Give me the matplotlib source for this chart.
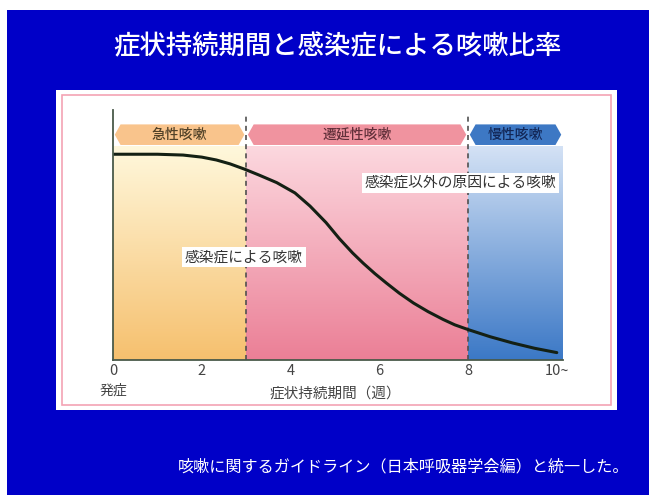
import matplotlib.pyplot as plt
import numpy as np
from matplotlib.colors import LinearSegmentedColormap
from matplotlib.patches import Rectangle, Polygon

plt.rcParams['font.family'] = ['Noto Sans CJK JP', 'DejaVu Sans']

# data
weeks = [0, 0.5, 1.0, 1.58, 2.0, 2.33, 2.64, 2.97, 3.3, 3.69, 4.1, 4.44, 4.8, 5.1, 5.4,
         5.64, 5.9, 6.16, 6.45, 6.77, 7.1, 7.44, 7.7, 8.0, 8.5, 9.0, 9.5, 10.0]
ratio = [1.0, 1.0, 1.0, 0.996, 0.986, 0.972, 0.953, 0.927, 0.898, 0.862, 0.812, 0.748, 0.668,
         0.59, 0.52, 0.47, 0.42, 0.374, 0.325, 0.277, 0.235, 0.197, 0.171, 0.148, 0.113,
         0.083, 0.057, 0.036]

phase_names = ['急性咳嗽', '遷延性咳嗽', '慢性咳嗽']
phase_edges = [0, 3, 8, 10.14]
phase_top = ['#fff8dc', '#fcd8df', '#d4e2f5']
phase_bottom = ['#f6c06e', '#eb7f96', '#3b78c6']
ribbon_colors = ['#f9c48c', '#f0939f', '#3d78c4']
ribbon_text = ['#524228', '#62303a', '#122656']

tick_pos = [0, 2, 4, 6, 8, 10]
tick_labels = ['0', '2', '4', '6', '8', '10~']

title = '症状持続期間と感染症による咳嗽比率'
footer = '咳嗽に関するガイドライン（日本呼吸器学会編）と統一した。'

blue = '#0000c8'
fig = plt.figure(figsize=(6.49, 4.95), dpi=100, facecolor=blue)

# white strips at the top and left edge, white panel with pink border
fig.patches.append(Rectangle((0, 1 - 10 / 495), 1, 10 / 495, transform=fig.transFigure,
                             facecolor='white', edgecolor='none', zorder=-2))
fig.patches.append(Rectangle((0, 0), 7 / 649, 1, transform=fig.transFigure,
                             facecolor='white', edgecolor='none', zorder=-2))
fig.patches.append(Rectangle((56 / 649, 1 - 410 / 495), 561 / 649, 320 / 495,
                             transform=fig.transFigure, facecolor='white',
                             edgecolor='none', zorder=-2))
fig.patches.append(Rectangle((62 / 649, 1 - 405 / 495), 549 / 649, 310 / 495,
                             transform=fig.transFigure, facecolor='none',
                             edgecolor='#f4a3b4', lw=1.2, zorder=-1))

fig.text(337 / 649, 1 - 47 / 495, title, color='white', fontsize=19,
         fontweight='medium', ha='center', va='center')
fig.text(629 / 649, 1 - 467 / 495, footer, color='white', fontsize=11.6,
         ha='right', va='center')

ax = fig.add_axes([113 / 649, 1 - 360 / 495, 450 / 649, 250 / 495])
ax.set_zorder(2)
ax.set_facecolor('none')
ax.set_xlim(0, 10.14)
ax.set_ylim(0, 1.215)

fill_top = 1.04
rib_lo, rib_hi = 1.045, 1.145
tip = 0.13
grad = np.linspace(0, 1, 256).reshape(-1, 1)
for i in range(3):
    x0, x1 = phase_edges[i], phase_edges[i + 1]
    cmap = LinearSegmentedColormap.from_list(f'ph{i}', [phase_bottom[i], phase_top[i]])
    ax.imshow(grad, cmap=cmap, aspect='auto', origin='lower',
              extent=(x0, x1, 0, fill_top), zorder=1)
    a, b = x0 + 0.04, x1 - 0.04
    ym = (rib_lo + rib_hi) / 2
    hexa = [(a, ym), (a + tip, rib_hi), (b - tip, rib_hi), (b, ym),
            (b - tip, rib_lo), (a + tip, rib_lo)]
    ax.add_patch(Polygon(hexa, closed=True, facecolor=ribbon_colors[i],
                         edgecolor='none', zorder=2))
    ax.text((x0 + x1) / 2, ym, phase_names[i], ha='center', va='center',
            fontsize=10, fontweight='medium', color=ribbon_text[i], zorder=3)

for xv in phase_edges[1:3]:
    ax.plot([xv, xv], [0, 1.2], ls=(0, (3, 2.5)), color='#505050', lw=1.2,
            zorder=3, clip_on=False)

ax.plot(weeks, ratio, color='#142014', lw=2.2, zorder=4, solid_capstyle='round',
        solid_joinstyle='round')

box = dict(facecolor='white', edgecolor='none', pad=2)
ax.text(2.95, 0.50, '感染症による咳嗽', ha='center', va='center', fontsize=10.6,
        color='#333333', bbox=box, zorder=5)
ax.text(7.83, 0.86, '感染症以外の原因による咳嗽', ha='center', va='center',
        fontsize=10.6, color='#333333', bbox=box, zorder=5)

for s in ['top', 'right']:
    ax.spines[s].set_visible(False)
for s in ['left', 'bottom']:
    ax.spines[s].set_color('#4a5a4a')
    ax.spines[s].set_linewidth(1.3)
    ax.spines[s].set_zorder(6)
ax.spines['left'].set_bounds(0, 1.215)
ax.spines['bottom'].set_bounds(0, 10.14)

ax.set_yticks([])
ax.set_xticks(tick_pos)
ax.set_xticklabels(tick_labels)
ax.tick_params(axis='x', length=0, pad=3, labelsize=10.5, labelcolor='#444444')
ax.text(0, -0.15, '発症', ha='center', va='center', fontsize=10, color='#444444')
ax.text(5.0, -0.165, '症状持続期間（週）', ha='center', va='center', fontsize=10.5,
        color='#444444')

fig.savefig('out.png', dpi=100, facecolor=blue)
